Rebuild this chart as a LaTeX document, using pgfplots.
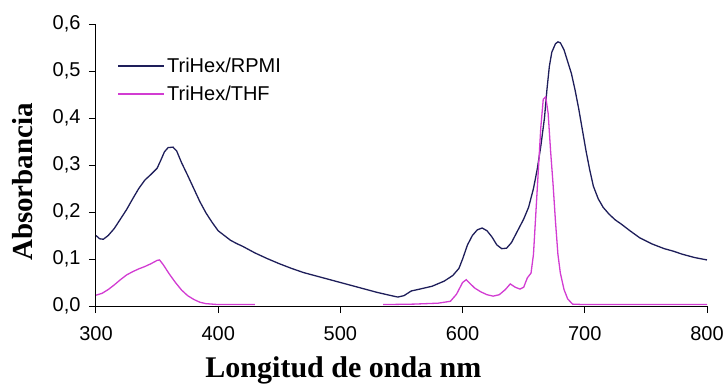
\documentclass[border=0pt]{standalone}
\usepackage{pgfplots}
\pgfplotsset{compat=1.18}
\usepackage{fontspec}
\setmainfont{Liberation Serif}
\newfontfamily\arial{Liberation Sans}

\definecolor{rpmi}{RGB}{30,30,90}
\definecolor{thf}{RGB}{210,60,210}

\begin{document}
\begin{tikzpicture}
\useasboundingbox (-96pt,-82pt) rectangle (630pt,306pt);
\begin{axis}[
  scale only axis, width=611pt, height=282pt,
  xmin=300, xmax=800, ymin=0, ymax=0.6,
  axis x line=bottom, axis y line=left,
  axis line style={-, line width=1pt, black},
  xtick={300,400,500,600,700,800},
  ytick={0,0.1,0.2,0.3,0.4,0.5,0.6},
  tick align=outside, major tick length=7pt,
  tick style={black, line width=1pt},
  /pgf/number format/assume math mode=true,
  ticklabel style={font=\arial\fontsize{20}{20}\selectfont},
  yticklabel style={xshift=-5pt, /pgf/number format/.cd, use comma, fixed, fixed zerofill, precision=1},
  xticklabel style={yshift=-10pt, /pgf/number format/.cd, fixed, 1000 sep={}},
  xlabel={Longitud de onda nm},
  ylabel={Absorbancia},
  xlabel style={font=\bfseries\fontsize{30}{30}\selectfont, at={(axis description cs:0.405,-0.228)}, anchor=center},
  ylabel style={font=\bfseries\fontsize{29}{29}\selectfont, at={(axis description cs:-0.12,0.44)}, anchor=center},
  legend style={draw=none, fill=none, at={(axis description cs:0.03,0.895)}, anchor=north west,
    font=\arial\fontsize{20}{20}\selectfont, row sep=8pt},
  legend cell align=left,
  legend image code/.code={\draw[#1, line width=1.6pt] (0pt,0pt) -- (46pt,0pt);},
  unbounded coords=jump,
]
\addplot[rpmi, line width=1.3pt] coordinates {
(300,0.150) (303,0.143) (306,0.142) (310,0.150) (315,0.165) (320,0.185)
(325,0.205) (330,0.228) (335,0.250) (340,0.268) (345,0.280) (350,0.293)
(353,0.310) (356,0.328) (359,0.337) (363,0.338) (366,0.330) (370,0.305)
(375,0.278) (380,0.250) (385,0.222) (390,0.198) (395,0.178) (400,0.160)
(405,0.150) (410,0.140) (415,0.133) (420,0.127) (430,0.113) (440,0.101)
(450,0.090) (460,0.080) (470,0.071) (480,0.064) (490,0.057) (500,0.050)
(510,0.043) (520,0.036) (530,0.029) (540,0.023) (547,0.019) (552,0.022)
(558,0.032) (565,0.036) (575,0.042) (585,0.053) (592,0.065) (597,0.080)
(600,0.100) (604,0.130) (608,0.150) (612,0.162) (616,0.166) (620,0.160)
(624,0.147) (628,0.130) (632,0.122) (636,0.123) (640,0.135) (645,0.160)
(650,0.185) (654,0.210) (658,0.250) (661,0.290) (664,0.340) (667,0.400)
(669,0.460) (671,0.510) (673,0.540) (676,0.558) (678,0.562) (680,0.560)
(683,0.545) (686,0.520) (689,0.495) (692,0.460) (695,0.420) (698,0.375)
(701,0.330) (704,0.290) (707,0.255) (711,0.228) (715,0.210) (720,0.195)
(725,0.183) (730,0.174) (737,0.160) (745,0.145) (755,0.132) (765,0.122)
(772,0.117) (780,0.110) (790,0.103) (800,0.098)
};
\addlegendentry{TriHex/RPMI}
\addplot[thf, line width=1.3pt] coordinates {
(300,0.023) (305,0.027) (310,0.035) (315,0.045) (320,0.056) (325,0.066)
(330,0.073) (335,0.079) (340,0.084) (345,0.090) (350,0.097) (352,0.098)
(355,0.088) (360,0.068) (365,0.050) (370,0.034) (375,0.022) (380,0.014)
(385,0.008) (390,0.005) (400,0.003) (430,0.003)
(431,nan)
(535,0.003) (560,0.004) (580,0.006) (590,0.010) (595,0.025) (600,0.050)
(603,0.056) (606,0.048) (610,0.038) (615,0.030) (620,0.024) (625,0.021)
(630,0.024) (635,0.035) (639,0.047) (643,0.040) (647,0.036) (650,0.040)
(653,0.060) (656,0.070) (658,0.110) (660,0.200) (662,0.290) (664,0.380)
(666,0.440) (668,0.445) (670,0.410) (672,0.330) (674,0.260) (676,0.180)
(678,0.110) (680,0.070) (683,0.035) (686,0.015) (690,0.004) (700,0.003)
(800,0.003)
};
\addlegendentry{TriHex/THF}
\end{axis}
\end{tikzpicture}
\end{document}
